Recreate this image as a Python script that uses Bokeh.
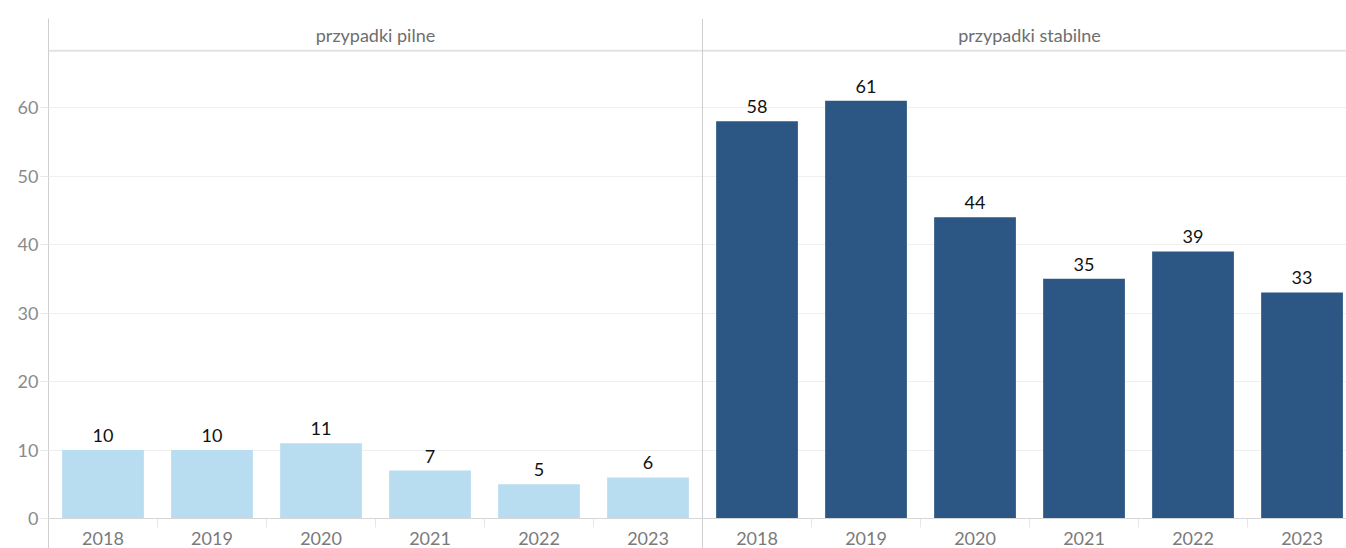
from bokeh.plotting import figure
from bokeh.models import Range1d, Span, FixedTicker, ColumnDataSource
from bokeh.core.properties import value
from bokeh.embed import file_html
from bokeh.resources import INLINE

years = ["2018", "2019", "2020", "2021", "2022", "2023"]
panels = ["przypadki pilne", "przypadki stabilne"]
pilne = [10, 10, 11, 7, 5, 6]
stabilne = [58, 61, 44, 35, 39, 33]
colors = ["#b9ddf0", "#2c5784"]
y_ticks = [0, 10, 20, 30, 40, 50, 60]

FONT = "Lato"

p = figure(width=1346, height=548, output_backend="svg", toolbar_location=None,
           x_range=Range1d(0, 11.908), y_range=Range1d(-4.38, 73.0),
           min_border_left=48, min_border_right=0, min_border_top=18, min_border_bottom=0)
p.outline_line_color = None
p.xaxis.visible = False
p.xgrid.visible = False
p.ygrid.ticker = FixedTicker(ticks=y_ticks[1:])
p.ygrid.grid_line_color = "#efefef"
p.yaxis.ticker = FixedTicker(ticks=y_ticks)
p.yaxis.axis_line_color = "#cfcfcf"
p.yaxis.major_tick_in = 0
p.yaxis.major_tick_out = 8
p.yaxis.major_tick_line_color = "#e8e8e8"
p.yaxis.minor_tick_line_color = None
p.yaxis.major_label_standoff = 2
p.yaxis.major_label_text_font = FONT
p.yaxis.major_label_text_font_size = "18px"
p.yaxis.major_label_text_color = "#8a8a8a"

series = [pilne, stabilne]
for k, vals in enumerate(series):
    xs = [k * len(years) + i + 0.5 for i in range(len(years))]
    src = ColumnDataSource(dict(x=xs, top=vals, lab=[str(v) for v in vals]))
    p.vbar(x="x", top="top", bottom=0, width=0.75, source=src,
           fill_color=colors[k], line_color=None)
    p.text(x="x", y="top", text="lab", source=src, text_align="center",
           text_baseline="bottom", y_offset=-8, text_font=value(FONT),
           text_font_size="18px", text_color="#111111")
    ysrc = ColumnDataSource(dict(x=xs, y=[-2.95] * len(xs), t=years))
    p.text(x="x", y="y", text="t", source=ysrc, text_align="center",
           text_baseline="middle", text_font=value(FONT), text_font_size="18px",
           text_color="#7a7a7a")
    # panel header
    p.text(x=[k * len(years) + len(years) / 2], y=[70.65], text=[panels[k]],
           text_align="center", text_baseline="middle", text_font=value(FONT),
           text_font_size="18px", text_color="#6e6e6e")

# separators between categories at the x axis
sep_x = [i for i in range(1, 12) if i != 6]
p.segment(x0=sep_x, y0=[0] * len(sep_x), x1=sep_x, y1=[-1.3] * len(sep_x),
          line_color="#e6e6e6", line_width=1)

p.add_layout(Span(location=0, dimension="width", line_color="#d6d6d6", line_width=1))
p.add_layout(Span(location=68.3, dimension="width", line_color="#e3e3e3", line_width=2))
p.add_layout(Span(location=6, dimension="height", line_color="#cfcfcf", line_width=1))

open("out.html", "w").write(file_html(p, INLINE))
